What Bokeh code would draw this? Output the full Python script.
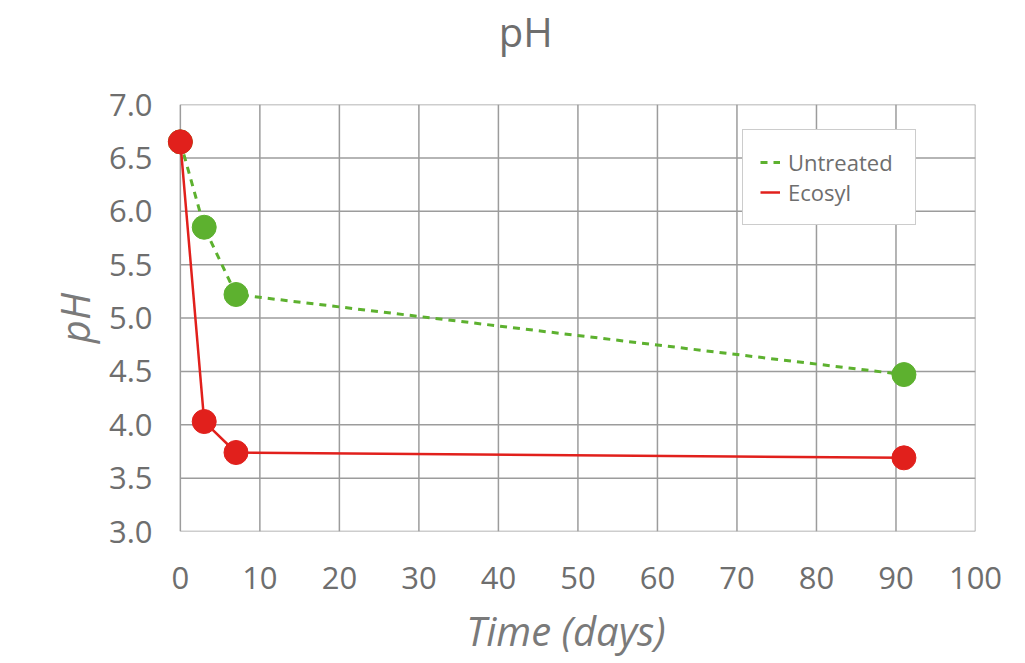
from bokeh.plotting import figure
from bokeh.layouts import column
from bokeh.models import Range1d, FixedTicker, Legend, LegendItem, CustomJSTickFormatter, Label
from bokeh.embed import file_html
from bokeh.resources import INLINE

days = [0, 3, 7, 91]
untreated = [6.65, 5.85, 5.22, 4.47]
ecosyl = [6.65, 4.03, 3.74, 3.69]
x_ticks = [0, 10, 20, 30, 40, 50, 60, 70, 80, 90, 100]
y_ticks = [3.0, 3.5, 4.0, 4.5, 5.0, 5.5, 6.0, 6.5, 7.0]
title_text = "pH"

GREEN = "#5db12f"
RED = "#e1201c"
TXT = "#6e6e6e"
GRID = "#9c9c9c"
FONT = "Open Sans"
W = 1009
STRIP = 86

# --- title strip ---
t = figure(width=W, height=STRIP, output_backend="svg", toolbar_location=None,
           x_range=Range1d(0, W), y_range=Range1d(0, STRIP),
           min_border=0, x_axis_location=None, y_axis_location=None)
t.outline_line_color = None
t.grid.visible = False
t.add_layout(Label(x=455, y=STRIP - 30.5, text=title_text, text_align="center",
                   text_baseline="middle", text_font=FONT, text_font_size="40px",
                   text_color=TXT))

# --- main chart ---
p = figure(width=W, height=574, output_backend="svg", toolbar_location=None,
           x_range=Range1d(-3, 100), y_range=Range1d(3.0, 7.0),
           min_border_left=156, min_border_right=34, min_border_top=18,
           min_border_bottom=129)
p.outline_line_color = None
p.xgrid.visible = False
p.ygrid.visible = False

# grid drawn only across 0..100 / 3..7
p.segment(x0=x_ticks, y0=[y_ticks[0]] * len(x_ticks), x1=x_ticks,
          y1=[y_ticks[-1]] * len(x_ticks), line_color=GRID, line_width=1.5)
p.segment(x0=[x_ticks[0]] * len(y_ticks), y0=y_ticks,
          x1=[x_ticks[-1]] * len(y_ticks), y1=y_ticks,
          line_color=GRID, line_width=1.5)

lu = p.line(days, untreated, line_color=GREEN, line_width=3, line_dash="7 6")
p.scatter(days, untreated, size=24, fill_color=GREEN, line_color=GREEN)
le = p.line(days, ecosyl, line_color=RED, line_width=2.5)
p.scatter(days, ecosyl, size=24, fill_color=RED, line_color=RED)

p.xaxis.ticker = FixedTicker(ticks=x_ticks)
p.yaxis.ticker = FixedTicker(ticks=y_ticks)
p.yaxis.formatter = CustomJSTickFormatter(code="return tick.toFixed(1);")
for ax in (p.xaxis, p.yaxis):
    ax.axis_line_color = None
    ax.major_tick_line_color = None
    ax.minor_tick_line_color = None
    ax.major_tick_out = 0
    ax.major_tick_in = 0
    ax.major_label_text_font = FONT
    ax.major_label_text_font_size = "31px"
    ax.major_label_text_color = TXT
    ax.axis_label_text_font = FONT
    ax.axis_label_text_font_size = "40px"
    ax.axis_label_text_font_style = "italic"
    ax.axis_label_text_color = "#7a7a7a"
p.xaxis.axis_label = "Time (days)"
p.yaxis.axis_label = "pH"
p.xaxis.major_label_standoff = 35
p.xaxis.axis_label_standoff = 11
p.yaxis.major_label_standoff = 4
p.yaxis.axis_label_standoff = 4

legend = Legend(items=[LegendItem(label="Untreated", renderers=[lu]),
                       LegendItem(label="Ecosyl", renderers=[le])],
                location=(586, 306))
legend.label_text_font = FONT
legend.label_text_font_size = "22px"
legend.label_text_color = TXT
legend.border_line_color = "#999999"
legend.border_line_width = 1.5
legend.background_fill_alpha = 1
legend.glyph_width = 20
legend.label_standoff = 8
legend.label_width = 110
legend.spacing = 0
legend.padding = 17
legend.margin = 0
p.add_layout(legend)

layout = column(t, p, spacing=0)
open("out.html", "w").write(file_html(layout, INLINE))
